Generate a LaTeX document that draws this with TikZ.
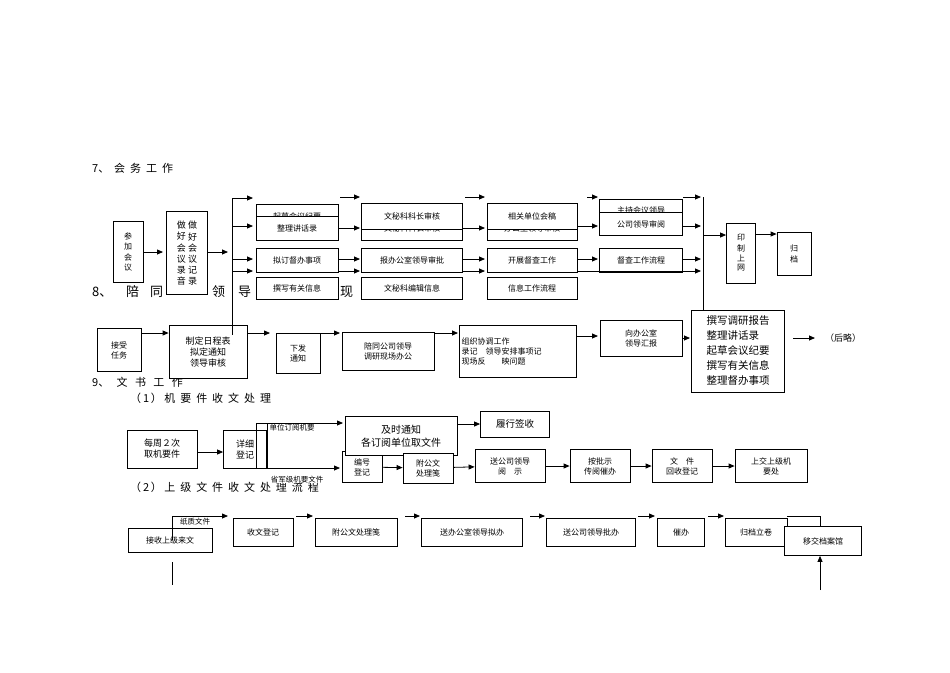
\documentclass[tikz,border=0pt]{standalone}
\usepackage{fontspec}
\setmainfont{Noto Sans CJK SC}
\usetikzlibrary{arrows.meta}
\begin{document}
\begin{tikzpicture}[x=1pt,y=-1pt,
  bx/.style={draw,thick,fill=white,inner sep=1pt,align=center,font=\fontsize{8}{10}\selectfont},
  ar/.style={thick,-{Triangle[length=6pt,width=5pt]}},
  ln/.style={thick},
  ttl/.style={anchor=west,inner sep=0pt,font=\fontsize{11}{13}\selectfont}]
\useasboundingbox (0,0) rectangle (950,672);
% ---- titles ----
\node[ttl] (t7) at (92,168) {7、\ \ 会\ \ 务\ \ 工\ \ 作};
\node[ttl] (t8a) at (92,292) {\fontsize{13}{15}\selectfont 8、};
\foreach \c/\x [count=\i] in {陪/126,同/150,领/212,导/238,现/340}
  \node[ttl,font=\fontsize{13}{15}\selectfont] (t8\i) at (\x,292) {\c};
\node[ttl] (t9) at (92,382) {9、\ \ \ 文\ \ \ 书\ \ \ 工\ \ \ 作};
\node[ttl] (t91) at (130,398) {（\,1\,）\ 机\ \ 要\ \ 件\ \ 收\ \ 文\ \ 处\ \ 理};
\node[ttl] (t92) at (130,487) {（\,2\,）\ 上\ \ 级\ \ 文\ \ 件\ \ 收\ \ 文\ \ 处\ \ 理\ \ 流\ \ 程};
% ---- section 7 ----
\node[bx,minimum width=30,minimum height=61] (a1) at (128,252) {\shortstack{参\\加\\会\\议}};
\node[bx,minimum width=41,minimum height=83,font=\fontsize{9}{10}\selectfont] (a2) at (187,253) {\shortstack{做\\好\\会\\议\\录\\音}\ \shortstack{做\\好\\会\\议\\记\\录}};
\draw[ar] (a1.east|-0,252) -- (163,252);
\draw[ar] (a2.east|-0,252) -- (228,252);
\coordinate (v1t) at (232,198); \coordinate (v1b) at (232,335);
\draw[ln] (v1t) -- (v1b);
\foreach \y in {198,226,259,271} \draw[ar] (232,\y) -- (253,\y);
% column 1
\node[bx,minimum width=82,minimum height=23] (b1) at (297,216) {起草会议纪要};
\node[bx,minimum width=82,minimum height=24] (b2) at (297,228) {整理讲话录};
\node[bx,minimum width=82,minimum height=24] (b3) at (297,260) {拟订督办事项};
\node[bx,minimum width=82,minimum height=22] (b4) at (297,288) {撰写有关信息};
% column 2
\node[bx,minimum width=101,minimum height=24] (c2) at (412,228) {文秘科科长审核};
\node[bx,minimum width=101,minimum height=26] (c1) at (412,216) {文秘科科长审核};
\node[bx,minimum width=101,minimum height=24] (c3) at (412,260) {报办公室领导审批};
\node[bx,minimum width=101,minimum height=22] (c4) at (412,288) {文秘科编辑信息};
% column 3
\node[bx,minimum width=90,minimum height=24] (d2) at (532,228) {办公室领导审核};
\node[bx,minimum width=90,minimum height=26] (d1) at (532,216) {相关单位会稿};
\node[bx,minimum width=90,minimum height=24] (d3) at (532,260) {开展督查工作};
\node[bx,minimum width=90,minimum height=22] (d4) at (532,288) {信息工作流程};
% column 4
\node[bx,minimum width=83,minimum height=22] (e1) at (641,210) {主持会议领导};
\node[bx,minimum width=83,minimum height=23] (e2) at (641,224) {公司领导审阅};
\node[bx,minimum width=83,minimum height=24] (e3) at (641,260) {督查工作流程};
% arrows between columns
\draw[ar] (340,197) -- (360,197);
\draw[ar] (b2.east|-0,228) -- (360,228);
\draw[ar] (b3.east|-0,259) -- (360,259);
\draw[ar] (338,271) -- (360,271);
\draw[ar] (465,197) -- (485,197);
\draw[ar] (c2.east|-0,228) -- (485,228);
\draw[ar] (c3.east|-0,259) -- (485,259);
\draw[ar] (463,271) -- (485,271);
\draw[ar] (587,197) -- (598,197);
\draw[ar] (d2.east|-0,226) -- (598,226);
\draw[ar] (d3.east|-0,259) -- (598,259);
\draw[ar] (683,197) -- (701,197);
\draw[ar] (e2.east|-0,226) -- (701,226);
\draw[ar] (e3.east|-0,259) -- (701,259);
\draw[ar] (577,271) -- (701,271);
\coordinate (v2t) at (703,197); \coordinate (v2b) at (703,310);
\draw[ln] (v2t) -- (v2b);
\node[bx,minimum width=29,minimum height=60] (f1) at (741,253) {\shortstack{印\\制\\上\\网}};
\node[bx,minimum width=34,minimum height=43] (f2) at (794,254) {\shortstack{归\\档}};
\draw[ar] (703,235) -- (f1.west|-0,235);
\draw[ar] (f1.east|-0,234) -- (f2.west|-0,234);
% ---- section 8 ----
\node[bx,minimum width=44,minimum height=43] (g1) at (119,350) {接受\\任务};
\node[bx,minimum width=78,minimum height=53,font=\fontsize{9}{11}\selectfont] (g2) at (208,352) {制定日程表\\拟定通知\\领导审核};
\draw[ln] (232,326) -- (v1b);
\node[bx,minimum width=44,minimum height=40] (g3) at (298,353) {下发\\通知};
\node[bx,minimum width=92,minimum height=38] (g4) at (388,351) {陪同公司领导\\调研现场办公};
\node[bx,minimum width=117,minimum height=52,align=left,text width=113] (g5) at (518,351) {组织协调工作\\录记\quad 领导安排事项记\\现场反\qquad 映问题};
\node[bx,minimum width=82,minimum height=36] (g6) at (641,338) {向办公室\\领导汇报};
\node[bx,minimum width=93,minimum height=82,align=left,font=\fontsize{10.5}{15}\selectfont] (g7) at (738,351) {撰写调研报告\\整理讲话录\\起草会议纪要\\撰写有关信息\\整理督办事项};
\node[inner sep=0pt,font=\fontsize{9}{11}\selectfont] (g8) at (843,338) {（后略）};
\draw[ar] (g1.east|-0,333) -- (g2.west|-0,333);
\draw[ar] (g2.east|-0,333) -- (270,333);
\draw[ar] (g3.east|-0,333) -- (340,333);
\draw[ar] (g4.east|-0,333) -- (458,333);
\draw[ar] (g5.east|-0,336) -- (598,336);
\draw[ar] (g6.east|-0,338) -- (690,338);
\draw[ar] (793,338) -- (815,338);
% ---- section 9 (1) ----
\node[bx,minimum width=70,minimum height=38,font=\fontsize{9}{11}\selectfont] (h1) at (162,449) {每周２次\\取机要件};
\node[bx,minimum width=43,minimum height=38,font=\fontsize{9}{11}\selectfont] (h2) at (245,449) {详细\\登记};
\draw[ar] (h1.east|-0,452) -- (h2.west|-0,452);
\draw[ln] (256,423) -- (256,468);
\draw[ln] (267,423) -- (267,468);
\draw[ar] (256,423) -- (343,423);
\draw[ar] (256,468) -- (340,468);
\node[inner sep=0pt,font=\fontsize{7.5}{9}\selectfont] (h3) at (292,428) {单位订阅机要};
\node[inner sep=0pt,fill=white,font=\fontsize{7.5}{9}\selectfont] (h4) at (297,480) {省军级机要文件};
\node[bx,minimum width=40,minimum height=31] (k1) at (362,467) {编号\\登记};
\node[bx,minimum width=112,minimum height=39,font=\fontsize{10}{13}\selectfont] (h5) at (401,436) {及时通知\\各订阅单位取文件};
\node[bx,minimum width=69,minimum height=26,font=\fontsize{9.5}{11}\selectfont] (h6) at (515,424) {履行签收};
\draw[ar] (h5.east|-0,424) -- (h6.west|-0,424);
\node[bx,minimum width=50,minimum height=30] (k2) at (428,468) {附公文\\处理笺};
\node[bx,minimum width=70,minimum height=33] (k3) at (510,466) {送公司领导\\阅\quad 示};
\node[bx,minimum width=60,minimum height=33] (k4) at (600,466) {按批示\\传阅催办};
\node[bx,minimum width=60,minimum height=33] (k5) at (682,466) {文\quad 件\\回收登记};
\node[bx,minimum width=72,minimum height=33] (k6) at (771,466) {上交上级机\\要处};
\draw[ar] (k1) -- (k2);
\draw[ar] (k2) -- (k3);
\draw[ar] (k3) -- (k4);
\draw[ar] (k4) -- (k5);
\draw[ar] (k5) -- (k6);
% ---- section 9 (2) ----
\node[bx,minimum width=84,minimum height=24] (m1) at (170,540) {接收上级来文};
\draw[ln] (172,540) -- (172,516);
\draw[ar] (172,516) -- (228,516);
\node[inner sep=1pt,fill=white,font=\fontsize{7.5}{9}\selectfont] (m0) at (195,522) {纸质文件};
\coordinate (m1b) at (172,585);
\draw[ln] (172,562) -- (m1b);
\node[bx,minimum width=60,minimum height=28] (m2) at (263,532) {收文登记};
\node[bx,minimum width=82,minimum height=28] (m3) at (356,532) {附公文处理笺};
\node[bx,minimum width=101,minimum height=28] (m4) at (472,532) {送办公室领导拟办};
\node[bx,minimum width=89,minimum height=28] (m5) at (591,532) {送公司领导批办};
\node[bx,minimum width=47,minimum height=28] (m6) at (681,532) {催办};
\node[bx,minimum width=62,minimum height=28] (m7) at (756,532) {归档立卷};
\draw[ar] (296,516) -- (313,516);
\draw[ar] (405,516) -- (420,516);
\draw[ar] (530,516) -- (545,516);
\draw[ar] (638,516) -- (655,516);
\draw[ar] (708,516) -- (724,516);
\draw[ln] (787,516) -- (820,516) -- (820,527);
\node[bx,minimum width=77,minimum height=29] (m8) at (823,541) {移交档案馆};
\coordinate (m8b) at (820,590);
\draw[ar] (m8b) -- (m8.south-|820,0);
\end{tikzpicture}
\end{document}
